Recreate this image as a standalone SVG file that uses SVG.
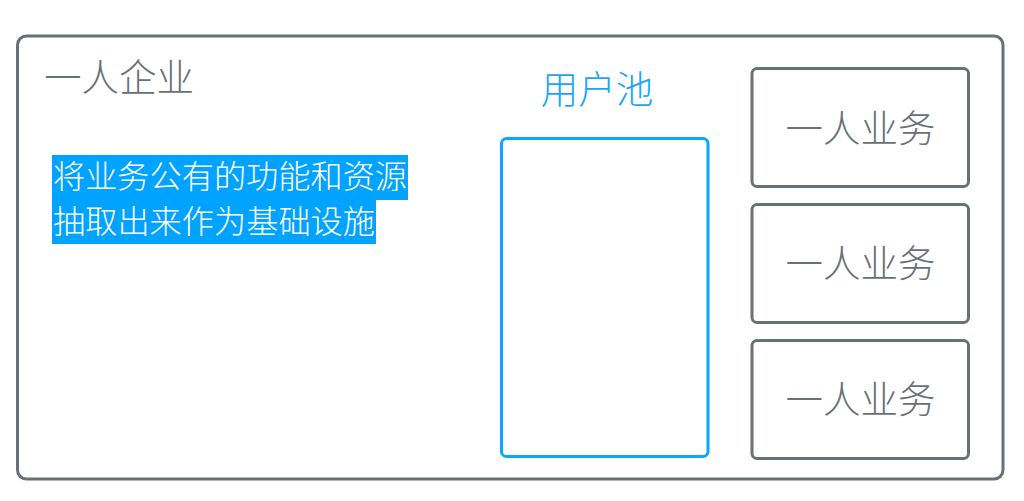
<svg xmlns="http://www.w3.org/2000/svg" width="1024" height="501" viewBox="0 0 1024 501">
<style>
.box{fill:#fff;stroke:#6a7078;stroke-width:3}
.pool{fill:#fff;stroke:#0aa6ff;stroke-width:3}
.t{font-family:"Noto Sans CJK SC","Noto Sans CJK TC",sans-serif;font-weight:300}
.gray{fill:#6a7078}
.blue{fill:#1aa6f5}
.white{fill:#fff}
</style>
<rect width="1024" height="501" fill="#fff"/>
<g id="enterprise">
<rect class="box" x="17.5" y="36" width="985.5" height="443" rx="9"/>
<text class="t gray" x="44" y="91" font-size="37.5" textLength="150">一人企业</text>
</g>
<g id="infra">
<rect x="52" y="155" width="356" height="45" fill="#00a3ff"/>
<rect x="52" y="199" width="324" height="45" fill="#00a3ff"/>
<text class="t white" x="53" y="188" font-size="32.2" textLength="354">将业务公有的功能和资源</text>
<text class="t white" x="53" y="233" font-size="32.2" textLength="322">抽取出来作为基础设施</text>
</g>
<g id="pool">
<text class="t blue" x="597" y="103" font-size="37.5" text-anchor="middle">用户池</text>
<rect class="pool" x="501.5" y="138.5" width="206.5" height="318" rx="5"/>
</g>
<g id="biz1">
<rect class="box" x="752" y="68.5" width="216.5" height="118" rx="5"/>
<text class="t gray" x="860.5" y="142" font-size="37.5" text-anchor="middle">一人业务</text>
</g>
<g id="biz2">
<rect class="box" x="752" y="204.5" width="216.5" height="118" rx="5"/>
<text class="t gray" x="860.5" y="277" font-size="37.5" text-anchor="middle">一人业务</text>
</g>
<g id="biz3">
<rect class="box" x="752" y="340.5" width="216.5" height="118" rx="5"/>
<text class="t gray" x="860.5" y="413" font-size="37.5" text-anchor="middle">一人业务</text>
</g>
<g id="connectors"></g>
</svg>
